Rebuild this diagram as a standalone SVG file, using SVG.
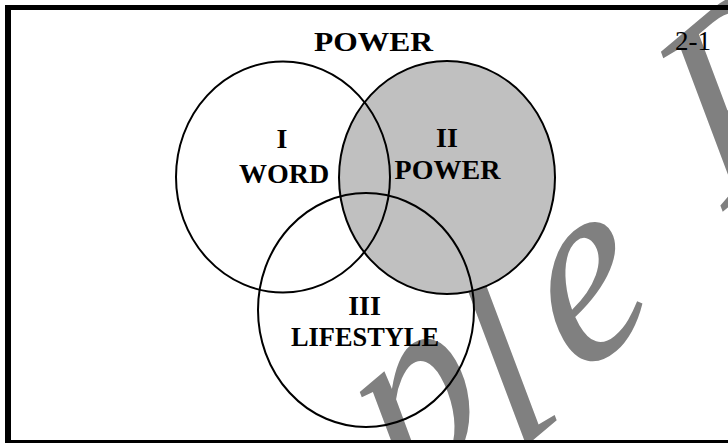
<svg xmlns="http://www.w3.org/2000/svg" width="728" height="443" viewBox="0 0 728 443">
  <style>
    .lbl { font-family: "Liberation Serif", "Times New Roman", serif; font-weight: bold; font-size: 28px; fill: #000; text-anchor: middle; }
    .ring { fill: none; stroke: #000; stroke-width: 2; }
    .wm { font-family: "Liberation Serif", "Times New Roman", serif; font-style: italic; font-size: 248px; fill: #808080; }
  </style>
  <rect x="0" y="0" width="728" height="443" fill="#fff"/>
  <g id="watermark">
    <text class="wm" transform="matrix(0.766 -0.643 0.508 0.879 578 380)" x="-640 -516 -392 -214 -92 0 110 214" y="10 10 10 -17.6 17.3 0 0 -35.7">Sample Pages</text>
  </g>
  <g id="frame">
    <rect x="5" y="5" width="723" height="5" fill="#000"/>
    <rect x="5" y="5" width="6" height="438" fill="#000"/>
    <rect x="5" y="440" width="723" height="3" fill="#000"/>
  </g>
  <g id="title">
    <text class="lbl" x="373.5" y="51" font-size="30" textLength="119" lengthAdjust="spacingAndGlyphs">POWER</text>
    <text x="675" y="50" font-family="Liberation Serif, Times New Roman, serif" font-size="27" fill="#000">2-1</text>
  </g>
  <g id="fills">
    <ellipse cx="447" cy="177.5" rx="108" ry="116.5" fill="#c0c0c0"/>
  </g>
  <g id="connectors"></g>
  <g id="circle-word">
    <ellipse class="ring" cx="283" cy="177" rx="107" ry="115.5"/>
    <text class="lbl" x="282" y="148">I</text>
    <text class="lbl" x="284" y="182.5">WORD</text>
  </g>
  <g id="circle-power">
    <ellipse class="ring" cx="447" cy="177.5" rx="108" ry="116.5"/>
    <text class="lbl" x="447" y="146.5">II</text>
    <text class="lbl" x="447.5" y="178.5">POWER</text>
  </g>
  <g id="circle-lifestyle">
    <ellipse class="ring" cx="366" cy="310" rx="108" ry="117"/>
    <text class="lbl" x="364.5" y="315">III</text>
    <text class="lbl" x="365" y="346" textLength="148" lengthAdjust="spacingAndGlyphs">LIFESTYLE</text>
  </g>
</svg>
